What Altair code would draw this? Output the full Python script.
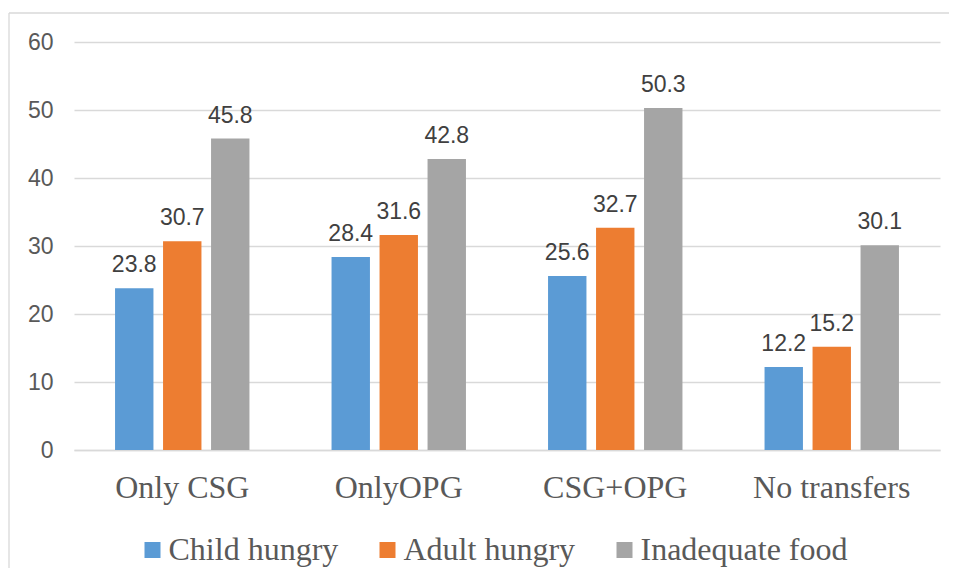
import altair as alt
import pandas as pd

categories = ["Only CSG", "OnlyOPG", "CSG+OPG", "No transfers"]
series = ["Child hungry", "Adult hungry", "Inadequate food"]
child_hungry = [23.8, 28.4, 25.6, 12.2]
adult_hungry = [30.7, 31.6, 32.7, 15.2]
inadequate_food = [45.8, 42.8, 50.3, 30.1]
colors = ["#5B9BD5", "#ED7D31", "#A5A5A5"]
y_ticks = [0, 10, 20, 30, 40, 50, 60]

rows = []
for s, vals in zip(series, [child_hungry, adult_hungry, inadequate_food]):
    for c, v in zip(categories, vals):
        rows.append({"category": c, "series": s, "value": v})
df = pd.DataFrame(rows)

SANS = "Liberation Sans"
SERIF = "Liberation Serif"
TXT = "#595959"

x_enc = alt.X(
    "category:N",
    sort=categories,
    scale=alt.Scale(paddingInner=0, paddingOuter=0),
    axis=alt.Axis(
        title=None, labelAngle=0, labelFont=SERIF, labelFontSize=32,
        labelColor=TXT, ticks=False, labelPadding=22,
        domainColor="#D9D9D9", domainWidth=1.5,
    ),
)
xoff_enc = alt.XOffset(
    "series:N", sort=series,
    scale=alt.Scale(paddingInner=0.2, paddingOuter=0.855),
)
y_enc = alt.Y(
    "value:Q",
    scale=alt.Scale(domain=[0, 60], nice=False),
    axis=alt.Axis(
        title=None, values=y_ticks, labelFont=SANS, labelFontSize=23,
        labelColor=TXT, ticks=False, domain=False, labelPadding=21,
        gridColor="#D9D9D9", gridWidth=1.3,
    ),
)

bars = alt.Chart(df).mark_bar().encode(
    x=x_enc,
    xOffset=xoff_enc,
    y=y_enc,
    color=alt.Color(
        "series:N", sort=series,
        scale=alt.Scale(domain=series, range=colors),
        legend=alt.Legend(
            title=None, orient="none", direction="horizontal",
            legendX=62.5, legendY=492, symbolType="square", symbolSize=256,
            symbolStrokeWidth=0, labelFont=SERIF, labelFontSize=32,
            labelColor=TXT, labelOffset=0, columnPadding=33, padding=0,
            labelLimit=400,
        ),
    ),
)

labels = alt.Chart(df).mark_text(
    baseline="alphabetic", dy=-16, font=SANS, fontSize=23, color="#404040"
).encode(
    x=alt.X("category:N", sort=categories),
    xOffset=alt.XOffset("series:N", sort=series),
    y="value:Q",
    text=alt.Text("value:Q", format=".1f"),
)

frame = alt.Data(values=[{}])
top_border = alt.Chart(frame).mark_rule(color="#D9D9D9", strokeWidth=1.3).encode(
    x=alt.value(-65), x2=alt.value(900), y=alt.value(-29)
)
left_border = alt.Chart(frame).mark_rule(color="#D9D9D9", strokeWidth=1.3).encode(
    x=alt.value(-65), y=alt.value(-29), y2=alt.value(540)
)

chart = alt.layer(bars, labels, top_border, left_border).properties(
    width=866,
    height=408,
    background="white",
    autosize=alt.AutoSizeParams(type="none"),
    padding={"left": 66, "top": 34, "right": 9, "bottom": 118},
).configure_view(stroke=None).configure_legend(labelFont=SERIF)

chart.save("out.html", embed_options={"renderer": "svg", "actions": False})
